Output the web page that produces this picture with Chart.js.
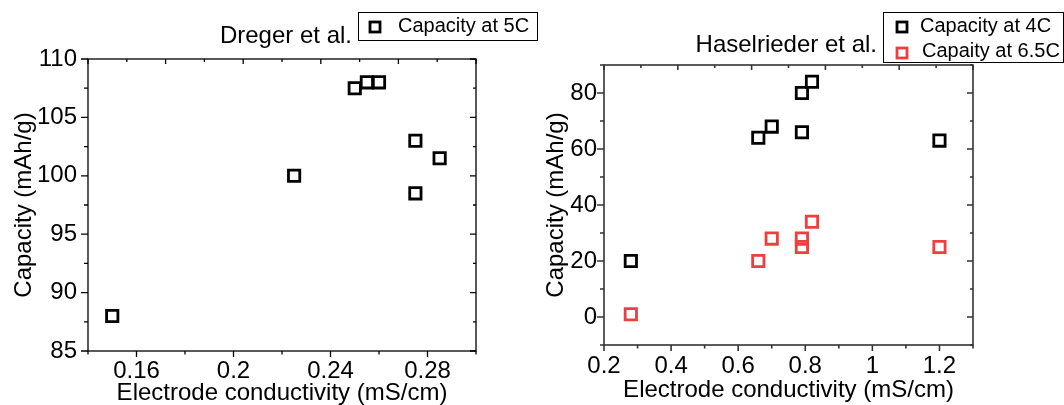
<!DOCTYPE html>
<html>
<head>
<meta charset="utf-8">
<script src="https://cdn.jsdelivr.net/npm/chart.js@4.4.1/dist/chart.umd.min.js"></script>
<style>
  html, body { margin: 0; padding: 0; background: #fff; overflow: hidden; }
  #wrap { position: relative; width: 1064px; height: 405px; }
  #left { position: absolute; left: 0; top: 0; }
  #right { position: absolute; left: 530px; top: 0; }
</style>
</head>
<body>
<div id="wrap">
  <canvas id="left" width="545" height="405"></canvas>
  <canvas id="right" width="534" height="405"></canvas>
</div>
<script>
// Dreger et al. - capacity at 5C
var dregerX = [0.15, 0.225, 0.25, 0.255, 0.26, 0.275, 0.275, 0.285];
var dregerY = [88, 100, 107.5, 108, 108, 103, 98.5, 101.5];

// Haselrieder et al. - capacity at 4C and 6.5C
var haselX4C = [0.28, 0.66, 0.70, 0.79, 0.82, 0.79, 1.2];
var hasel4C = [20, 64, 68, 80, 84, 66, 63];
var haselX65C = [0.28, 0.66, 0.70, 0.79, 0.79, 0.82, 1.2];
var hasel65C = [1, 20, 28, 28, 25, 34, 25];

// tick labels
var leftXTicks = [0.16, 0.2, 0.24, 0.28];
var leftYTicks = [85, 90, 95, 100, 105, 110];
var rightXTicks = [0.2, 0.4, 0.6, 0.8, 1, 1.2];
var rightYTicks = [0, 20, 40, 60, 80];

var FONT = "'Liberation Sans', Arial, sans-serif";
var RED = '#ef3e3e';

Chart.defaults.font.family = FONT;
Chart.defaults.color = '#000';

function points(xs, ys) {
  return xs.map(function (x, i) { return { x: x, y: ys[i] }; });
}

function isMajor(v, list) {
  return list.some(function (t) { return Math.abs(t - v) < 1e-9; });
}

// box frame with ticks on all four sides, titles and legend
var framePlugin = {
  id: 'frame',
  afterDraw: function (chart, args, o) {
    var ctx = chart.ctx, a = chart.chartArea;
    var xs = chart.scales.x, ys = chart.scales.y;
    var i, n, v, px, len;
    ctx.save();
    ctx.strokeStyle = o.color;
    ctx.lineWidth = o.lineWidth;
    ctx.strokeRect(a.left, a.top, a.right - a.left, a.bottom - a.top);
    ctx.beginPath();
    // bottom, outward
    n = Math.round((xs.max - xs.min) / o.minorX);
    for (i = 0; i <= n; i++) {
      v = xs.min + i * o.minorX;
      px = xs.getPixelForValue(v);
      len = isMajor(v, o.xTicks) ? 6 : 3.5;
      ctx.moveTo(px, a.bottom); ctx.lineTo(px, a.bottom + len);
    }
    // left outward, right inward
    n = Math.round((ys.max - ys.min) / o.minorY);
    for (i = 0; i <= n; i++) {
      v = ys.min + i * o.minorY;
      px = ys.getPixelForValue(v);
      len = isMajor(v, o.yTicks) ? 7 : 4;
      ctx.moveTo(a.left, px); ctx.lineTo(a.left - len, px);
      ctx.moveTo(a.right, px); ctx.lineTo(a.right - len + 1, px);
    }
    // top, inward, 10 divisions
    var w = a.right - a.left;
    for (i = 0; i <= 10; i++) {
      px = a.left + i * w / 10;
      len = i % 2 === 0 ? 5 : 3;
      ctx.moveTo(px, a.top); ctx.lineTo(px, a.top + len);
    }
    ctx.stroke();

    // title
    ctx.fillStyle = '#000';
    ctx.font = '24px ' + FONT;
    ctx.textAlign = 'right';
    ctx.textBaseline = 'middle';
    ctx.fillText(o.title.text, o.title.x, o.title.y);

    // legend
    var lg = o.legend;
    ctx.lineWidth = 1;
    ctx.strokeStyle = '#000';
    ctx.strokeRect(lg.x + 0.5, lg.y + 0.5, lg.w, lg.h);
    ctx.font = '20px ' + FONT;
    ctx.textAlign = 'left';
    chart.data.datasets.forEach(function (ds, k) {
      var it = lg.items[k];
      ctx.strokeStyle = ds.borderColor;
      ctx.lineWidth = 2.8;
      ctx.strokeRect(it.mx - 5, it.my - 5, 10, 10);
      ctx.fillStyle = '#000';
      ctx.fillText(ds.label, it.tx, it.ty);
    });
    ctx.restore();
  }
};

function makeChart(id, datasets, s) {
  return new Chart(document.getElementById(id), {
    type: 'scatter',
    data: { datasets: datasets },
    options: {
      responsive: false,
      animation: false,
      events: [],
      layout: { padding: s.padding },
      plugins: {
        legend: { display: false },
        tooltip: { enabled: false },
        frame: s.frame
      },
      scales: {
        x: {
          type: 'linear',
          min: s.xMin, max: s.xMax,
          grid: { display: false, drawTicks: false },
          border: { display: false },
          afterBuildTicks: function (sc) { sc.ticks = s.frame.xTicks.map(function (v) { return { value: v }; }); },
          afterFit: function (sc) { sc.height = s.xHeight; },
          ticks: {
            autoSkip: false, maxRotation: 0, padding: s.xPad,
            font: { size: 24 },
            callback: function (v) { return String(v); }
          },
          title: {
            display: true, text: 'Electrode conductivity (mS/cm)',
            font: { size: 24 }, padding: { top: 0, bottom: s.xTitlePad }
          }
        },
        y: {
          type: 'linear',
          min: s.yMin, max: s.yMax,
          grid: { display: false, drawTicks: false },
          border: { display: false },
          afterBuildTicks: function (sc) { sc.ticks = s.frame.yTicks.map(function (v) { return { value: v }; }); },
          afterFit: function (sc) { sc.width = s.yWidth; },
          ticks: {
            autoSkip: false, padding: s.yPad,
            font: { size: 24 },
            callback: function (v) { return String(v); }
          },
          title: {
            display: true, text: 'Capacity (mAh/g)',
            font: { size: 24 }, padding: { top: s.yTitlePad, bottom: 0 }
          }
        }
      }
    },
    plugins: [framePlugin]
  });
}

function marker(color) {
  return {
    pointStyle: 'rect', pointRadius: 8, pointBorderWidth: 2.8,
    borderColor: color, pointBorderColor: color,
    backgroundColor: 'rgba(0,0,0,0)', pointBackgroundColor: 'rgba(0,0,0,0)',
    clip: false
  };
}

makeChart('left', [
  Object.assign({ label: 'Capacity at 5C', data: points(dregerX, dregerY) }, marker('#000'))
], {
  padding: { left: 0, right: 69, top: 59, bottom: 0 },
  xMin: 0.14, xMax: 0.30, yMin: 85, yMax: 110,
  xHeight: 54, yWidth: 88, xPad: 6, yPad: 11, xTitlePad: -3, yTitlePad: 10,
  frame: {
    color: '#000', lineWidth: 1.3,
    xTicks: leftXTicks, yTicks: leftYTicks, minorX: 0.02, minorY: 2.5,
    title: { text: 'Dreger et al.', x: 352, y: 36 },
    legend: { x: 358, y: 12, w: 179, h: 28,
      items: [{ mx: 375, my: 27, tx: 398, ty: 26 }] }
  }
});

makeChart('right', [
  Object.assign({ label: 'Capacity at 4C', data: points(haselX4C, hasel4C) }, marker('#000')),
  Object.assign({ label: 'Capaity at 6.5C', data: points(haselX65C, hasel65C) }, marker(RED))
], {
  padding: { left: 0, right: 91, top: 65, bottom: 0 },
  xMin: 0.2, xMax: 1.3, yMin: -10, yMax: 90,
  xHeight: 60, yWidth: 74, xPad: 7, yPad: 7, xTitlePad: 0, yTitlePad: 12,
  frame: {
    color: '#333', lineWidth: 1.6,
    xTicks: rightXTicks, yTicks: rightYTicks, minorX: 0.1, minorY: 10,
    title: { text: 'Haselrieder et al.', x: 347, y: 45 },
    legend: { x: 353, y: 12, w: 180, h: 50,
      items: [{ mx: 372, my: 27, tx: 390, ty: 26 }, { mx: 372, my: 53, tx: 392, ty: 51 }] }
  }
});
</script>
</body>
</html>
